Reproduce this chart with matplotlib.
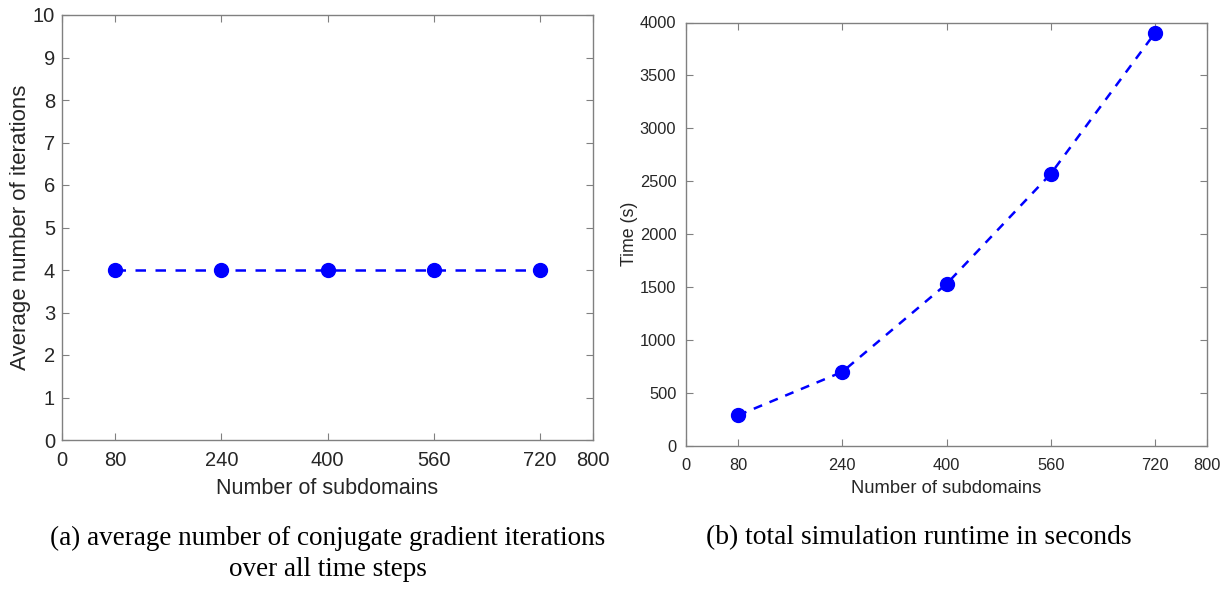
import matplotlib
matplotlib.use("Agg")
import matplotlib.pyplot as plt
from matplotlib import font_manager

subdomains = [80, 240, 400, 560, 720]
avg_iterations = [4, 4, 4, 4, 4]
runtime_s = [290, 700, 1530, 2570, 3900]
xticks = [0, 80, 240, 400, 560, 720, 800]
yticks_left = list(range(0, 11))
yticks_right = list(range(0, 4001, 500))

names = {f.name for f in font_manager.fontManager.ttflist}
sans = ['Liberation Sans Narrow', 'Liberation Sans', 'DejaVu Sans']
sans = [s for s in sans if s in names] or ['DejaVu Sans']
serif = ['Liberation Serif', 'DejaVu Serif']

plt.rcParams['font.family'] = sans

fig = plt.figure(figsize=(12.28, 5.95), dpi=100)
ax1 = fig.add_axes([62/1228, 155/595, 531/1228, 425/595])
ax2 = fig.add_axes([686/1228, 149/595, 521/1228, 423.5/595])

spine_c = '#808080'
text_c = '#262626'

def style(ax, fs, xpad, ypad):
    for s in ax.spines.values():
        s.set_color(spine_c)
        s.set_linewidth(1.0)
    ax.tick_params(direction='in', length=5, width=0.8, color=spine_c,
                   labelcolor=text_c, labelsize=fs, top=True, right=True)
    ax.tick_params(axis='x', pad=xpad)
    ax.tick_params(axis='y', pad=ypad)

ax1.plot(subdomains, avg_iterations, linestyle='--', dashes=(4.2, 3.8), color='#0000ff',
         linewidth=1.8, marker='o', markersize=10)
ax1.set_xlim(0, 800)
ax1.set_ylim(0, 10)
ax1.set_xticks(xticks)
ax1.set_yticks(yticks_left)
style(ax1, 14.5, 8, 5)
ax1.set_xlabel('Number of subdomains', fontsize=15.5, color=text_c, labelpad=6)
ax1.set_ylabel('Average number of iterations', fontsize=16, color=text_c, labelpad=1)

ax2.plot(subdomains, runtime_s, linestyle='--', dashes=(3.6, 3.2), color='#0000ff',
         linewidth=1.8, marker='o', markersize=10)
ax2.set_xlim(0, 800)
ax2.set_ylim(0, 4000)
ax2.set_xticks(xticks)
ax2.set_yticks(yticks_right)
style(ax2, 11.8, 9, 7)
ax2.set_xlabel('Number of subdomains', fontsize=13.2, color=text_c, labelpad=5)
ax2.set_ylabel('Time (s)', fontsize=12.8, color=text_c, labelpad=1)

fig.text(328/1228, 1 - 538/595, '(a) average number of conjugate gradient iterations',
         family=serif, fontsize=19.5, ha='center', va='center', color='black')
fig.text(328/1228, 1 - 570/595, 'over all time steps',
         family=serif, fontsize=19.5, ha='center', va='center', color='black')
fig.text(919/1228, 1 - 538/595, '(b) total simulation runtime in seconds',
         family=serif, fontsize=19.8, ha='center', va='center', color='black')

fig.savefig('out.png', dpi=100)
